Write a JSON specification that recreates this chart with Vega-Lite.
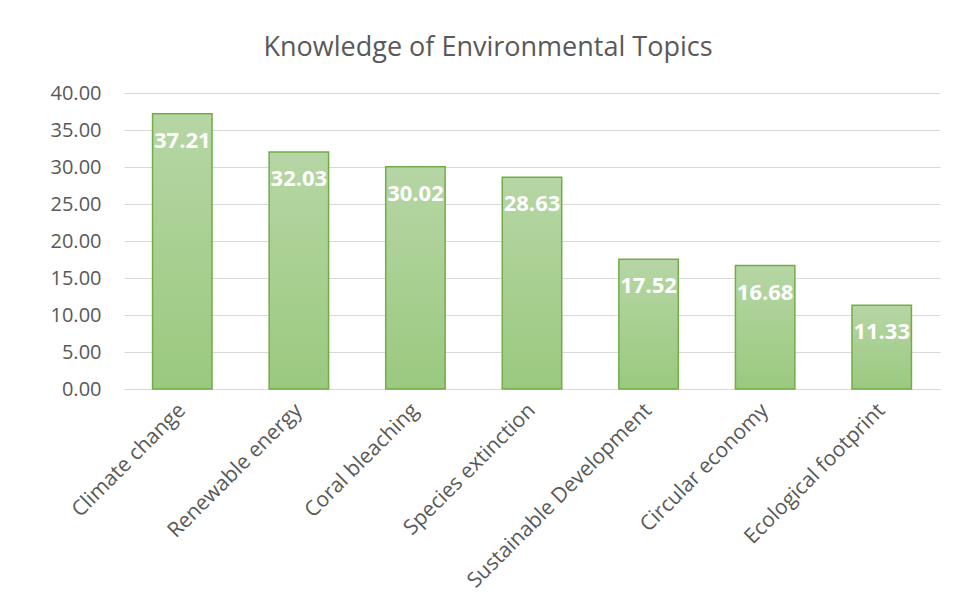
{
  "$schema": "https://vega.github.io/schema/vega-lite/v6.json",
  "autosize": "none",
  "width": 816,
  "height": 296,
  "padding": {"left": 124, "top": 93, "right": 19, "bottom": 227},
  "background": "white",
  "title": {
    "text": "Knowledge of Environmental Topics",
    "font": "Open Sans",
    "fontSize": 27,
    "fontWeight": "normal",
    "color": "#595959",
    "anchor": "middle",
    "dx": -44,
    "offset": 21
  },
  "data": {
    "values": [
      {"topic": "Climate change", "value": 37.21},
      {"topic": "Renewable energy", "value": 32.03},
      {"topic": "Coral bleaching", "value": 30.02},
      {"topic": "Species extinction", "value": 28.63},
      {"topic": "Sustainable Development", "value": 17.52},
      {"topic": "Circular economy", "value": 16.68},
      {"topic": "Ecological footprint", "value": 11.33}
    ]
  },
  "encoding": {
    "x": {
      "field": "topic",
      "type": "nominal",
      "sort": null,
      "scale": {"paddingInner": 0.49, "paddingOuter": 0.245},
      "axis": {
        "title": null,
        "labelAngle": -45,
        "labelFont": "Open Sans",
        "labelFontSize": 21,
        "labelColor": "#595959",
        "ticks": false,
        "domainColor": "#d9d9d9",
        "domainWidth": 1,
        "labelPadding": 18,
        "labelAlign": "right",
        "labelBaseline": "middle",
        "labelLimit": 400,
        "labelOverlap": false
      }
    },
    "y": {
      "field": "value",
      "type": "quantitative",
      "scale": {"domain": [0, 40]},
      "axis": {
        "title": null,
        "values": [0, 5, 10, 15, 20, 25, 30, 35, 40],
        "format": ".2f",
        "labelFont": "Open Sans",
        "labelFontSize": 20,
        "labelColor": "#595959",
        "labelOverlap": false,
        "ticks": false,
        "domain": false,
        "grid": true,
        "gridColor": "#d9d9d9",
        "gridWidth": 1,
        "labelPadding": 23
      }
    }
  },
  "layer": [
    {
      "mark": {
        "type": "bar",
        "stroke": "#70ad47",
        "strokeWidth": 1.5,
        "color": {
          "gradient": "linear",
          "x1": 0, "y1": 0, "x2": 0, "y2": 1,
          "stops": [
            {"offset": 0, "color": "#b6d6a5"},
            {"offset": 1, "color": "#9bc97f"}
          ]
        }
      }
    },
    {
      "mark": {
        "type": "text",
        "color": "white",
        "font": "Open Sans",
        "fontSize": 22,
        "fontWeight": "bold",
        "baseline": "middle",
        "dy": 27
      },
      "encoding": {
        "text": {"field": "value", "type": "quantitative", "format": ".2f"}
      }
    }
  ],
  "config": {"view": {"stroke": null}}
}
